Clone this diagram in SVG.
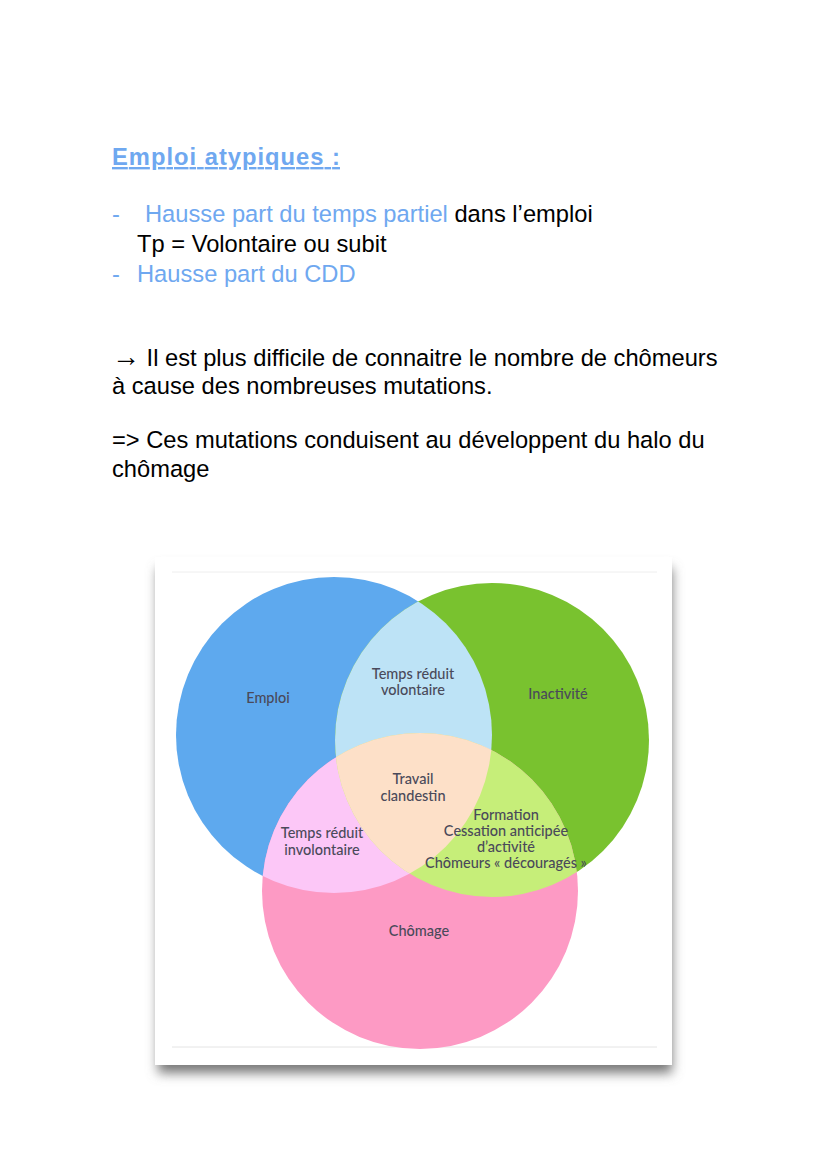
<svg xmlns="http://www.w3.org/2000/svg" width="828" height="1175" viewBox="0 0 828 1175">
<style>
.t{font-family:"Liberation Sans",Arial,sans-serif;font-size:23.7px;fill:#000}
.b{fill:#6fa8f0}
.v{font-family:Lato,"Open Sans",sans-serif;font-size:14.5px;font-weight:500;fill:#4a4a5a;text-anchor:middle}
</style>
<defs>
<filter id="sh" x="-10%" y="-10%" width="120%" height="130%"><feGaussianBlur stdDeviation="6"/></filter>
<clipPath id="cB"><circle cx="334" cy="735" r="158"/></clipPath>
<clipPath id="cG"><circle cx="492" cy="740" r="157"/></clipPath>
<clipPath id="cP"><circle cx="420" cy="891" r="158"/></clipPath>
</defs>
<rect width="828" height="1175" fill="#fff"/>
<g id="text">
<text x="112" y="165" class="t b" font-size="24.5" font-weight="bold" text-decoration="underline" textLength="228">Emploi atypiques :</text>
<text x="112" y="222" class="t b">-</text>
<text x="145" y="222" class="t"><tspan class="b">Hausse part du temps partiel</tspan> dans l’emploi</text>
<text x="137" y="252" class="t">Tp = Volontaire ou subit</text>
<text x="112" y="282" class="t b">-</text>
<text x="137" y="282" class="t b">Hausse part du CDD</text>
<text x="112" y="366" class="t"><tspan font-size="28">→</tspan> Il est plus difficile de connaitre le nombre de chômeurs</text>
<text x="112" y="394" class="t">à cause des nombreuses mutations.</text>
<text x="112" y="448" class="t">=&gt; Ces mutations conduisent au développent du halo du</text>
<text x="112" y="477" class="t">chômage</text>
</g>
<g id="frame">
<rect x="158" y="568" width="514" height="505" fill="#777" filter="url(#sh)"/>
<rect x="155" y="557" width="517" height="508" fill="#fff"/>
<line x1="172" y1="572" x2="657" y2="572" stroke="#eee"/>
<line x1="172" y1="1047" x2="657" y2="1047" stroke="#e4e4e4"/>
</g>
<g id="emploi"><circle cx="334" cy="735" r="158" fill="#5ea9ee"/></g>
<g id="inactivite"><circle cx="492" cy="740" r="157" fill="#79c22f"/></g>
<g id="chomage"><circle cx="420" cy="891" r="158" fill="#fd9ac4"/></g>
<g id="overlaps">
<circle cx="492" cy="740" r="157" fill="#bde3f6" clip-path="url(#cB)"/>
<circle cx="420" cy="891" r="158" fill="#fcc7f7" clip-path="url(#cB)"/>
<circle cx="420" cy="891" r="158" fill="#c6ee79" clip-path="url(#cG)"/>
<g clip-path="url(#cB)"><circle cx="420" cy="891" r="158" fill="#fde0c8" clip-path="url(#cG)"/></g>
</g>
<g id="labels">
<text x="268" y="703" class="v">Emploi</text>
<text x="558" y="699" class="v">Inactivité</text>
<text x="413" y="679" class="v">Temps réduit</text>
<text x="413" y="695" class="v">volontaire</text>
<text x="413" y="784" class="v">Travail</text>
<text x="413" y="801" class="v">clandestin</text>
<text x="322" y="838" class="v">Temps réduit</text>
<text x="322" y="855" class="v">involontaire</text>
<text x="506" y="820" class="v">Formation</text>
<text x="506" y="836" class="v">Cessation anticipée</text>
<text x="506" y="852" class="v">d’activité</text>
<text x="506" y="868" class="v">Chômeurs « découragés »</text>
<text x="419" y="936" class="v">Chômage</text>
</g>
</svg>
